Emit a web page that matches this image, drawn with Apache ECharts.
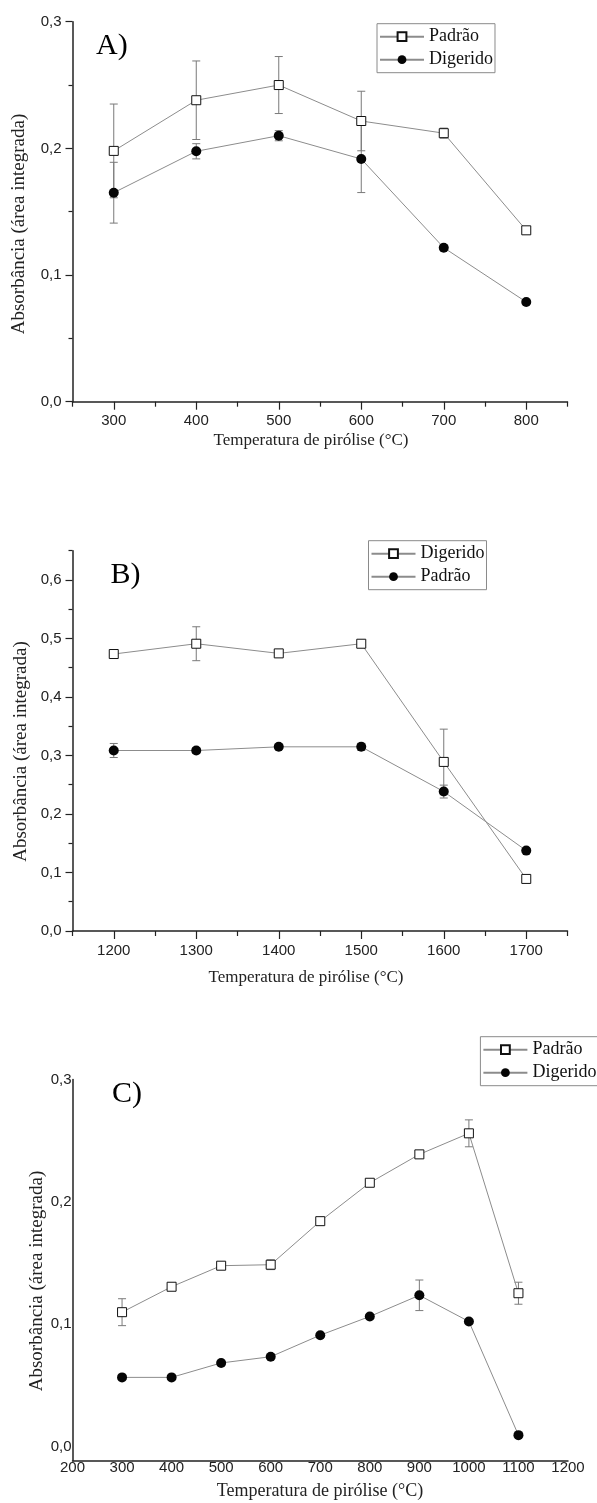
<!DOCTYPE html>
<html>
<head>
<meta charset="utf-8">
<script src="https://cdn.jsdelivr.net/npm/echarts@6/dist/echarts.min.js"></script>
<style>
  html, body { margin: 0; padding: 0; background: #fff; }
  .panel { position: absolute; left: 0; width: 597px; }
</style>
</head>
<body>
<div id="pa" class="panel" style="top:0;height:480px"></div>
<div id="pb" class="panel" style="top:480px;height:520px"></div>
<div id="pc" class="panel" style="top:1000px;height:503px"></div>
<script>
// ---------- DATA ----------
// Panel A
const tempA = [300, 400, 500, 600, 700, 800];
const padraoA = [0.198, 0.238, 0.250, 0.2216, 0.212, 0.1353];
const padraoAErr = [0.037, 0.031, 0.0225, 0.0235, 0.004, 0.002];
const digeridoA = [0.165, 0.1977, 0.210, 0.1916, 0.1216, 0.0787];
const digeridoAErr = [0.024, 0.006, 0.004, 0.0265, 0.002, 0.001];
const xTicksA = [300, 400, 500, 600, 700, 800];
const xMinorA = [250, 350, 450, 550, 650, 750, 850];
const yTicksA = [0, 0.1, 0.2, 0.3];
const yMinorA = [0.05, 0.15, 0.25];

// Panel B
const tempB = [1200, 1300, 1400, 1500, 1600, 1700];
const digeridoB = [0.4734, 0.491, 0.4745, 0.491, 0.289, 0.089];
const digeridoBErr = [0.003, 0.029, 0.003, 0.005, 0.056, 0.003];
const padraoB = [0.3085, 0.3085, 0.3148, 0.3148, 0.2383, 0.1374];
const padraoBErr = [0.012, 0.005, 0.004, 0.006, 0.011, 0.003];
const xTicksB = [1200, 1300, 1400, 1500, 1600, 1700];
const xMinorB = [1150, 1250, 1350, 1450, 1550, 1650, 1750];
const yTicksB = [0, 0.1, 0.2, 0.3, 0.4, 0.5, 0.6];
const yMinorB = [0.05, 0.15, 0.25, 0.35, 0.45, 0.55, 0.65];

// Panel C
const tempC = [300, 400, 500, 600, 700, 800, 900, 1000, 1100];
const padraoC = [0.1098, 0.1306, 0.1478, 0.1486, 0.1842, 0.2156, 0.2388, 0.256, 0.1253];
const padraoCErr = [0.011, 0.002, 0.002, 0.004, 0.002, 0.002, 0.002, 0.011, 0.009];
const digeridoC = [0.0565, 0.0565, 0.0683, 0.0734, 0.091, 0.1063, 0.1236, 0.1022, 0.0093];
const digeridoCErr = [0.001, 0.001, 0.001, 0.001, 0.001, 0.001, 0.0125, 0.001, 0.001];
const xTicksC = [200, 300, 400, 500, 600, 700, 800, 900, 1000, 1100, 1200];
const yTicksC = [0, 0.1, 0.2, 0.3];

const yTitle = 'Absorbância (área integrada)';
const xTitle = 'Temperatura de pirólise (°C)';

// ---------- STYLE HELPERS ----------
const SANS = '"Liberation Sans", Arial, sans-serif';
const SERIF = '"Liberation Serif", "Times New Roman", serif';
const AXIS_COLOR = '#222';
const LINE_COLOR = '#8c8c8c';
const ERR_COLOR = '#7a7a7a';
const fmtY = v => Number(v).toFixed(1).replace('.', ',');

function pairs(xs, ys) { return xs.map((x, i) => [x, ys[i]]); }

function lineSeries(name, xs, ys, kind) {
  const square = kind === 'square';
  return {
    name: name, type: 'line', data: pairs(xs, ys), z: 3,
    symbol: square ? 'rect' : 'circle',
    symbolSize: square ? 9 : 10,
    showSymbol: true,
    lineStyle: { color: LINE_COLOR, width: 1 },
    itemStyle: square ? { color: '#fff', borderColor: '#111', borderWidth: 1 }
                      : { color: '#050505', borderColor: '#050505', borderWidth: 0 },
    emphasis: { disabled: true },
    animation: false
  };
}

function errSeries(xs, ys, es) {
  return {
    type: 'custom', z: 2, silent: true, animation: false,
    data: xs.map((x, i) => [x, ys[i] - es[i], ys[i] + es[i]]),
    encode: { x: 0, y: [1, 2] },
    renderItem: function (params, api) {
      const x = api.value(0);
      const top = api.coord([x, api.value(2)]);
      const bot = api.coord([x, api.value(1)]);
      const w = 4;
      const st = { stroke: ERR_COLOR, lineWidth: 1 };
      return {
        type: 'group',
        children: [
          { type: 'line', shape: { x1: top[0], y1: top[1], x2: bot[0], y2: bot[1] }, style: st },
          { type: 'line', shape: { x1: top[0] - w, y1: top[1], x2: top[0] + w, y2: top[1] }, style: st },
          { type: 'line', shape: { x1: bot[0] - w, y1: bot[1], x2: bot[0] + w, y2: bot[1] }, style: st }
        ]
      };
    }
  };
}

function ticksAxes(dim, min, max, majors, minors, fmt, labelMargin, majorLen, minorLen, showTicks) {
  const pos = dim === 'x' ? 'bottom' : 'left';
  const base = {
    type: 'value', min: min, max: max, position: pos, gridIndex: 0,
    splitLine: { show: false }, axisPointer: { show: false }
  };
  const a0 = Object.assign({}, base, {
    axisLine: { show: true, onZero: false, lineStyle: { color: AXIS_COLOR, width: 1.5 } },
    axisTick: { show: showTicks && minors.length > 0, customValues: minors, length: minorLen, lineStyle: { color: AXIS_COLOR, width: 1.2 } },
    axisLabel: { show: false }
  });
  const a1 = Object.assign({}, base, {
    axisLine: { show: false, onZero: false },
    axisTick: { show: showTicks, customValues: majors, length: majorLen, lineStyle: { color: AXIS_COLOR, width: 1.2 } },
    axisLabel: {
      show: true, customValues: majors, formatter: fmt, margin: labelMargin,
      fontFamily: SANS, fontSize: 15, color: '#222',
      showMinLabel: true, showMaxLabel: true
    }
  });
  return [a0, a1];
}

function legendCfg(left, top, items) {
  return {
    orient: 'vertical', left: left, top: top,
    data: items,
    itemWidth: 44, itemHeight: 11, itemGap: 5,
    padding: [4, 2, 4, 2],
    borderColor: '#8a8a8a', borderWidth: 1,
    selectedMode: false,
    textStyle: { fontFamily: SERIF, fontSize: 18, color: '#111', lineHeight: 18, padding: [0, 0, 0, 0] }
  };
}

function panelLetter(text, left, top) {
  return {
    text: text, left: left, top: top, padding: 0,
    textStyle: { fontFamily: SERIF, fontSize: 30, fontWeight: 'normal', color: '#000' }
  };
}

function graphicTitles(yx, yy, xx, xy, ySize, xSize) {
  return [
    { type: 'text', x: yx, y: yy, rotation: Math.PI / 2, silent: true,
      style: { text: yTitle, font: ySize + 'px ' + SERIF, fill: '#222', align: 'center', verticalAlign: 'middle' } },
    { type: 'text', x: xx, y: xy, silent: true,
      style: { text: xTitle, font: xSize + 'px ' + SERIF, fill: '#222', align: 'center', verticalAlign: 'middle' } }
  ];
}

// ---------- PANEL A ----------
const chartA = echarts.init(document.getElementById('pa'), null, { renderer: 'canvas' });
chartA.setOption({
  animation: false,
  title: panelLetter('A)', 96, 31),
  grid: { left: 72.5, right: 29.5, top: 21.7, height: 380 },
  xAxis: ticksAxes('x', 250, 850, xTicksA, xMinorA, v => String(v), 12, 8, 5, true),
  yAxis: ticksAxes('y', 0, 0.3, yTicksA, yMinorA, fmtY, 11, 7, 4, true),
  legend: legendCfg(377, 23.7, ['Padrão', 'Digerido']),
  graphic: graphicTitles(19.5, 224, 311, 441, 19, 17),
  series: [
    errSeries(tempA, padraoA, padraoAErr),
    errSeries(tempA, digeridoA, digeridoAErr),
    lineSeries('Padrão', tempA, padraoA, 'square'),
    lineSeries('Digerido', tempA, digeridoA, 'circle')
  ]
});

// ---------- PANEL B ----------
const chartB = echarts.init(document.getElementById('pb'), null, { renderer: 'canvas' });
chartB.setOption({
  animation: false,
  title: panelLetter('B)', 110.4, 80),
  grid: { left: 72.5, right: 29.5, top: 70.7, height: 380.3 },
  xAxis: ticksAxes('x', 1150, 1750, xTicksB, xMinorB, v => String(v), 12, 8, 5, true),
  yAxis: ticksAxes('y', 0, 0.65, yTicksB, yMinorB, fmtY, 11, 7, 4, true),
  legend: legendCfg(368.5, 60.7, ['Digerido', 'Padrão']),
  graphic: graphicTitles(21, 271.5, 306, 498, 19, 17),
  series: [
    errSeries(tempB, digeridoB, digeridoBErr),
    errSeries(tempB, padraoB, padraoBErr),
    lineSeries('Digerido', tempB, digeridoB, 'square'),
    lineSeries('Padrão', tempB, padraoB, 'circle')
  ]
});

// ---------- PANEL C ----------
const chartC = echarts.init(document.getElementById('pc'), null, { renderer: 'canvas' });
chartC.setOption({
  animation: false,
  title: panelLetter('C)', 112, 79),
  grid: { left: 72.5, right: 29, top: 79.5, height: 381.2 },
  xAxis: ticksAxes('x', 200, 1200, xTicksC, [], v => String(v), 0, 0, 0, false),
  yAxis: ticksAxes('y', -0.0116, 0.3, yTicksC, [], fmtY, 1, 0, 0, false),
  legend: legendCfg(480.4, 36.7, ['Padrão', 'Digerido']),
  graphic: graphicTitles(36.7, 281, 320, 491, 19, 18),
  series: [
    errSeries(tempC, padraoC, padraoCErr),
    errSeries(tempC, digeridoC, digeridoCErr),
    lineSeries('Padrão', tempC, padraoC, 'square'),
    lineSeries('Digerido', tempC, digeridoC, 'circle')
  ]
});
</script>
</body>
</html>
